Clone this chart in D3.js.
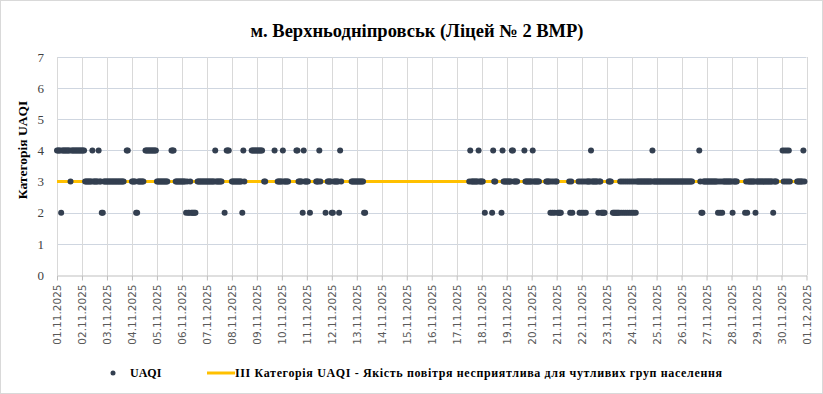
<!DOCTYPE html>
<html>
<head>
<meta charset="utf-8">
<script src="https://cdn.jsdelivr.net/npm/d3@7"></script>
<style>
    body { margin: 0; background: #fff; }
    svg { display: block; }
    .serif { font-family: "Liberation Serif", "Times New Roman", "DejaVu Serif", serif; }
</style>
</head>
<body>
<div id="chart"></div>
<script>

//Chart data
var title = "м. Верхньодніпровськ (Ліцей № 2 ВМР)";
var yTitle = "Категорія UAQI";
var seriesName = "UAQI";
var thresholdName = "ІІІ Категорія  UAQI  - Якість повітря  несприятлива  для чутливих  груп  населення";
var thresholdLevel = 3;

var tickLabels = ["01.11.2025","02.11.2025","03.11.2025","04.11.2025","05.11.2025","06.11.2025","07.11.2025","08.11.2025","09.11.2025","10.11.2025","11.11.2025","12.11.2025","13.11.2025","14.11.2025","15.11.2025","16.11.2025","17.11.2025","18.11.2025","19.11.2025","20.11.2025","21.11.2025","22.11.2025","23.11.2025","24.11.2025","25.11.2025","26.11.2025","27.11.2025","28.11.2025","29.11.2025","30.11.2025","01.12.2025"];

var yTicks = [0, 1, 2, 3, 4, 5, 6, 7];

//Hourly UAQI category, one string per day (00:00 .. 23:00), "-" = no reading
var hourly = [
    "444424444444434444444444", //01.11
    "444333333343333343322333", //02.11
    "33333333333333333--44---", //03.11
    "333322333333-44444444444", //04.11
    "33333333333---444-333333", //05.11
    "33332322322222-333333333", //06.11
    "333333334333333--2-444--", //07.11
    "3333333333243------44444", //08.11
    "444444-33--------4--3333", //09.11
    "3433333-------4433332433", //10.11
    "33-2-----33343----2-3333", //11.11
    "2233333243---------33333", //12.11
    "333333322---------------", //13.11
    "------------------------", //14.11
    "------------------------", //15.11
    "------------------------", //16.11
    "------------343333333433", //17.11
    "33-2------2433-----24333", //18.11
    "33333443333------4333333", //19.11
    "34333333------3333232323", //20.11
    "32222-------3232-----323", //21.11
    "23232333343333332332222-", //22.11
    "--333-222222232323232323", //23.11
    "232323333333333333334333", //24.11
    "333333333333333333333333", //25.11
    "33333333333------4322333", //26.11
    "333333333332323233333333", //27.11
    "323333-------23233333332", //28.11
    "33333333333333332333----", //29.11
    "-43434343------33333343-"  //30.11
];

var width = 823;
var height = 394;

var svg = d3.select("#chart")
    .append("svg")
    .attr("width", width)
    .attr("height", height);

//Chart border
svg.append("rect")
    .attr("x", 0.5)
    .attr("y", 0.5)
    .attr("width", width - 1)
    .attr("height", height - 1)
    .attr("fill", "#fff")
    .attr("stroke", "#d9d9d9");

var start = Date.UTC(2025, 10, 1);
var end = Date.UTC(2025, 11, 1);

var x = d3.scaleUtc()
    .domain([start, end])
    .range([57, 806.5]);

var y = d3.scaleLinear()
    .domain([0, 7])
    .range([275, 57]);

var tickDates = tickLabels.map(function(d, i) {
    return new Date(Date.UTC(2025, 10, 1 + i));
});

//Build points from the day strings
var points = [];
hourly.forEach(function(day, d) {
    for (var h = 0; h < 24; h++) {
        var c = day.charAt(h);
        if (c >= "0" && c <= "9") {
            points.push({ t: new Date(Date.UTC(2025, 10, 1 + d, h)), v: +c });
        }
    }
});

//Gridlines
svg.append("g")
    .selectAll("line")
    .data(yTicks.slice(1))
    .enter()
    .append("line")
    .attr("x1", x(start))
    .attr("x2", x(end))
    .attr("y1", d => Math.round(y(d)) + 0.5)
    .attr("y2", d => Math.round(y(d)) + 0.5)
    .attr("stroke", "#cfd6e0");

svg.append("g")
    .selectAll("line")
    .data(tickDates)
    .enter()
    .append("line")
    .attr("x1", d => Math.round(x(d)) + 0.5)
    .attr("x2", d => Math.round(x(d)) + 0.5)
    .attr("y1", y(7))
    .attr("y2", y(0))
    .attr("stroke", "#d9d9d9");

//X axis
var xAxis = svg.append("g")
    .attr("transform", "translate(0," + (Math.round(y(0)) + 0.5) + ")")
    .call(d3.axisBottom(x)
        .tickValues(tickDates)
        .tickFormat(function(d, i) { return tickLabels[i]; })
        .tickSize(5)
        .tickSizeOuter(0));

xAxis.select(".domain").attr("stroke", "#bfbfbf");
xAxis.selectAll(".tick line").attr("stroke", "#bfbfbf");
xAxis.selectAll(".tick text")
    .attr("transform", "rotate(-90)")
    .attr("x", -9)
    .attr("y", 0)
    .attr("dy", "0.36em")
    .attr("text-anchor", "end")
    .attr("fill", "#595959")
    .attr("font-family", "DejaVu Sans")
    .attr("font-size", "10.5px");

//Y axis
var yAxis = svg.append("g")
    .attr("transform", "translate(57,0)")
    .call(d3.axisLeft(y)
        .tickValues(yTicks)
        .tickFormat(d3.format("d"))
        .tickSize(0)
        .tickPadding(13));

yAxis.attr("font-family", null).attr("font-size", null).classed("serif", true);
yAxis.select(".domain").remove();
yAxis.selectAll(".tick text")
    .attr("fill", "#404040")
    .style("font-size", "13px");

//Threshold line
svg.append("line")
    .attr("x1", x(start))
    .attr("x2", x(end))
    .attr("y1", y(thresholdLevel))
    .attr("y2", y(thresholdLevel))
    .attr("stroke", "#ffc000")
    .attr("stroke-width", 3);

//Points
svg.append("g")
    .selectAll("circle")
    .data(points)
    .enter()
    .append("circle")
    .attr("cx", d => x(d.t))
    .attr("cy", d => y(d.v))
    .attr("r", 3)
    .attr("fill", "#333f50");

//Titles
svg.append("text")
    .classed("serif", true)
    .attr("x", 417)
    .attr("y", 37)
    .attr("text-anchor", "middle")
    .style("font-weight", "bold")
    .style("font-size", "18.5px")
    .attr("fill", "#000")
    .text(title);

svg.append("text")
    .classed("serif", true)
    .attr("transform", "translate(27,150) rotate(-90)")
    .attr("text-anchor", "middle")
    .style("font-weight", "bold")
    .style("font-size", "13.5px")
    .attr("fill", "#000")
    .text(yTitle);

//Legend
var legend = svg.append("g")
    .classed("serif", true)
    .style("font-weight", "bold")
    .style("font-size", "12px");

legend.append("circle")
    .attr("cx", 113)
    .attr("cy", 373)
    .attr("r", 2.5)
    .attr("fill", "#333f50");

legend.append("text")
    .attr("x", 130)
    .attr("y", 377)
    .attr("fill", "#000")
    .text(seriesName);

legend.append("line")
    .attr("x1", 207)
    .attr("x2", 235)
    .attr("y1", 373)
    .attr("y2", 373)
    .attr("stroke", "#ffc000")
    .attr("stroke-width", 3);

legend.append("text")
    .attr("x", 235)
    .attr("y", 377)
    .attr("textLength", 487)
    .attr("lengthAdjust", "spacing")
    .attr("fill", "#000")
    .text(thresholdName);

</script>
</body>
</html>
